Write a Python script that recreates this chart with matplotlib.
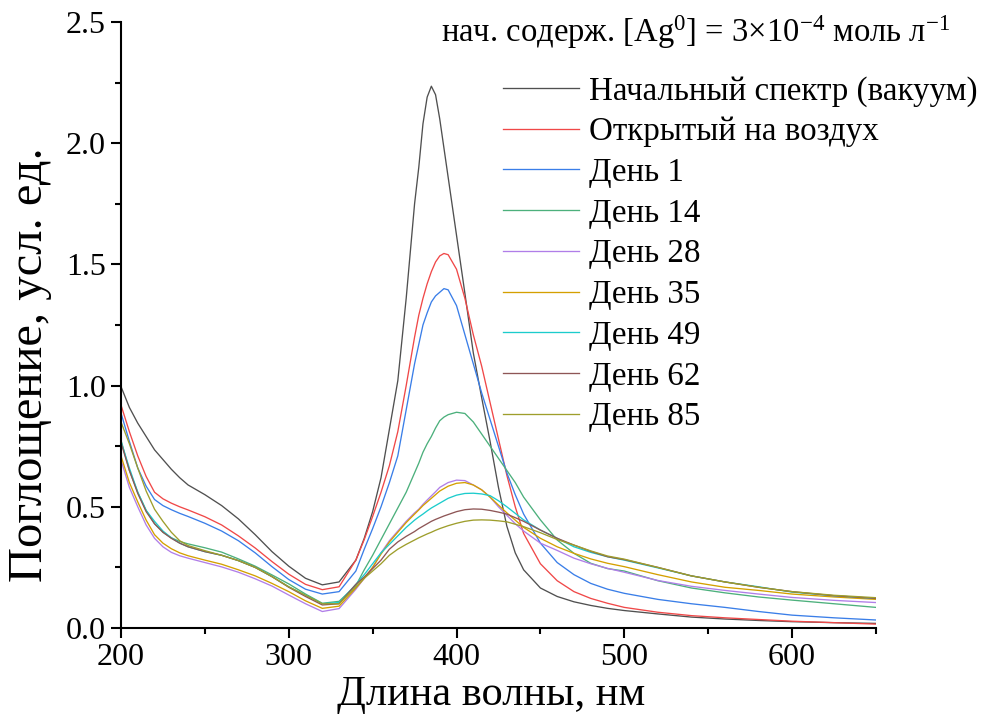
import matplotlib
matplotlib.use('Agg')
import matplotlib.pyplot as plt
from matplotlib.ticker import MultipleLocator, FormatStrFormatter

plt.rcParams['font.family'] = ['Liberation Serif', 'DejaVu Serif']
plt.rcParams['mathtext.fontset'] = 'custom'
plt.rcParams['mathtext.rm'] = 'Liberation Serif'
plt.rcParams['mathtext.it'] = 'Liberation Serif:italic'

# длина волны, нм
wl = [200, 205, 210, 215, 220, 225, 230, 235, 240, 250, 260, 270, 280, 290, 300, 310, 320, 330, 340,
      345, 350, 355, 360, 365, 370, 375, 377.5, 380, 382.5, 385, 387.5, 390, 392.5, 395,
      400, 405, 410, 415, 420, 425, 430, 435, 440, 450, 460, 470, 480, 490, 500,
      520, 540, 560, 580, 600, 625, 650]

a_vac = [0.996, 0.91, 0.845, 0.79, 0.735, 0.695, 0.655, 0.62, 0.59, 0.55, 0.505, 0.45, 0.385, 0.315, 0.255, 0.205, 0.178, 0.19, 0.28,
         0.37, 0.48, 0.62, 0.82, 1.02, 1.36, 1.75, 1.90, 2.08, 2.19, 2.235, 2.20, 2.10, 1.98, 1.86,
         1.62, 1.38, 1.135, 0.95, 0.77, 0.58, 0.42, 0.31, 0.24, 0.165, 0.13, 0.108, 0.093, 0.081, 0.072,
         0.058, 0.045, 0.037, 0.031, 0.026, 0.022, 0.019]

a_air = [0.92, 0.81, 0.71, 0.625, 0.56, 0.533, 0.515, 0.50, 0.487, 0.459, 0.425, 0.38, 0.33, 0.274, 0.222, 0.18, 0.158, 0.17, 0.28,
         0.365, 0.46, 0.56, 0.67, 0.81, 1.00, 1.20, 1.29, 1.36, 1.42, 1.47, 1.51, 1.535, 1.545, 1.54,
         1.48, 1.36, 1.21, 1.08, 0.93, 0.78, 0.63, 0.50, 0.39, 0.265, 0.195, 0.15, 0.122, 0.102, 0.085,
         0.065, 0.051, 0.042, 0.035, 0.028, 0.022, 0.016]

a_d1 = [0.887, 0.77, 0.66, 0.585, 0.53, 0.505, 0.488, 0.473, 0.46, 0.432, 0.40, 0.36, 0.31, 0.253, 0.20, 0.16, 0.14, 0.15, 0.235,
        0.325, 0.41, 0.50, 0.60, 0.71, 0.90, 1.09, 1.17, 1.25, 1.30, 1.345, 1.37, 1.385, 1.40, 1.395,
        1.33, 1.21, 1.09, 0.97, 0.86, 0.75, 0.64, 0.55, 0.47, 0.35, 0.27, 0.22, 0.184, 0.16, 0.143,
        0.118, 0.10, 0.085, 0.068, 0.053, 0.042, 0.033]

a_d14 = [0.775, 0.65, 0.56, 0.485, 0.43, 0.395, 0.372, 0.357, 0.347, 0.331, 0.313, 0.285, 0.255, 0.219, 0.182, 0.14, 0.102, 0.11, 0.175,
         0.24, 0.30, 0.365, 0.43, 0.495, 0.56, 0.64, 0.68, 0.725, 0.76, 0.79, 0.825, 0.855, 0.87, 0.88,
         0.89, 0.885, 0.85, 0.80, 0.75, 0.70, 0.65, 0.60, 0.54, 0.446, 0.363, 0.308, 0.267, 0.245, 0.235,
         0.195, 0.165, 0.145, 0.128, 0.115, 0.10, 0.085]

a_d28 = [0.693, 0.58, 0.50, 0.425, 0.37, 0.335, 0.312, 0.298, 0.288, 0.27, 0.252, 0.23, 0.203, 0.173, 0.136, 0.10, 0.068, 0.08, 0.16,
         0.205, 0.25, 0.31, 0.36, 0.40, 0.44, 0.475, 0.49, 0.51, 0.528, 0.545, 0.562, 0.58, 0.59, 0.60,
         0.61, 0.608, 0.59, 0.57, 0.54, 0.50, 0.465, 0.43, 0.40, 0.35, 0.32, 0.288, 0.265, 0.246, 0.23,
         0.196, 0.172, 0.155, 0.14, 0.126, 0.114, 0.105]

a_d35 = [0.71, 0.60, 0.52, 0.445, 0.385, 0.35, 0.327, 0.31, 0.298, 0.28, 0.263, 0.24, 0.215, 0.184, 0.15, 0.112, 0.081, 0.09, 0.165,
         0.205, 0.25, 0.305, 0.355, 0.395, 0.435, 0.47, 0.487, 0.505, 0.52, 0.535, 0.55, 0.565, 0.575, 0.585,
         0.597, 0.60, 0.59, 0.57, 0.54, 0.507, 0.475, 0.445, 0.415, 0.37, 0.335, 0.308, 0.285, 0.267, 0.253,
         0.22, 0.19, 0.168, 0.155, 0.14, 0.128, 0.118]

a_d49 = [0.77, 0.66, 0.56, 0.485, 0.44, 0.40, 0.372, 0.35, 0.335, 0.315, 0.30, 0.278, 0.25, 0.212, 0.17, 0.135, 0.10, 0.105, 0.18,
         0.22, 0.265, 0.31, 0.345, 0.38, 0.415, 0.445, 0.458, 0.47, 0.483, 0.495, 0.505, 0.515, 0.525, 0.535,
         0.548, 0.555, 0.556, 0.553, 0.546, 0.525, 0.50, 0.473, 0.446, 0.404, 0.37, 0.335, 0.312, 0.294, 0.28,
         0.248, 0.215, 0.19, 0.17, 0.148, 0.133, 0.122]

a_d62 = [0.765, 0.65, 0.555, 0.48, 0.43, 0.395, 0.37, 0.35, 0.335, 0.315, 0.30, 0.278, 0.25, 0.212, 0.168, 0.13, 0.095, 0.10, 0.18,
         0.21, 0.245, 0.28, 0.325, 0.355, 0.378, 0.398, 0.41, 0.42, 0.43, 0.44, 0.448, 0.455, 0.462, 0.468,
         0.48, 0.488, 0.491, 0.49, 0.485, 0.478, 0.47, 0.455, 0.44, 0.404, 0.37, 0.342, 0.316, 0.294, 0.282,
         0.25, 0.215, 0.19, 0.168, 0.15, 0.133, 0.122]

a_d85 = [0.85, 0.76, 0.66, 0.565, 0.49, 0.44, 0.395, 0.36, 0.34, 0.319, 0.30, 0.278, 0.25, 0.212, 0.17, 0.135, 0.10, 0.10, 0.17,
         0.205, 0.235, 0.265, 0.30, 0.325, 0.345, 0.363, 0.372, 0.38, 0.388, 0.395, 0.403, 0.41, 0.416, 0.422,
         0.432, 0.44, 0.445, 0.446, 0.445, 0.442, 0.438, 0.428, 0.418, 0.393, 0.365, 0.342, 0.318, 0.297, 0.284,
         0.25, 0.215, 0.19, 0.168, 0.15, 0.135, 0.125]

labels = ['Начальный спектр (вакуум)', 'Открытый на воздух', 'День 1', 'День 14', 'День 28',
          'День 35', 'День 49', 'День 62', 'День 85']
series = [a_vac, a_air, a_d1, a_d14, a_d28, a_d35, a_d49, a_d62, a_d85]
colors = ['#505050', '#f04848', '#3a7ee8', '#4cb07c', '#b07ee8', '#d4a000', '#1ccccc', '#8e5656', '#9e9e2c']

fig = plt.figure(figsize=(9.82, 7.21), dpi=100)
ax = fig.add_axes([0.1232, 0.129, 0.7688, 0.8405])

for y, lab, c in zip(series, labels, colors):
    ax.plot(wl, y, color=c, lw=0.95, label=lab)

ax.set_xlim(200, 650)
ax.set_ylim(0, 2.5)
ax.xaxis.set_major_locator(MultipleLocator(100))
ax.xaxis.set_minor_locator(MultipleLocator(50))
ax.yaxis.set_major_locator(MultipleLocator(0.5))
ax.yaxis.set_minor_locator(MultipleLocator(0.25))
ax.yaxis.set_major_formatter(FormatStrFormatter('%.1f'))

for s in ['top', 'right']:
    ax.spines[s].set_visible(False)
for s in ['left', 'bottom']:
    ax.spines[s].set_linewidth(1.5)
ax.tick_params(which='major', direction='out', length=7, width=1.5, labelsize=23, pad=4)
ax.tick_params(which='minor', direction='out', length=4, width=1.5)

ax.set_xlabel('Длина волны, нм', fontsize=30.5)
ax.set_ylabel('Поглощение, усл. ед.', fontsize=35)
ax.xaxis.set_label_coords(0.49, -0.078)
ax.yaxis.set_label_coords(-0.091, 0.434)

fig.text(0.967, 0.942, 'нач. содерж. [Ag$^{0}$] = 3×10$^{-4}$ моль л$^{-1}$',
         fontsize=23.5, ha='right', va='baseline')

ax.legend(loc='upper left', bbox_to_anchor=(0.512, 0.895), bbox_transform=fig.transFigure,
          frameon=False, fontsize=23.8, handlelength=2.3, handletextpad=0.3,
          labelspacing=0.31, borderpad=0, borderaxespad=0)

fig.savefig('out.png', dpi=100)
